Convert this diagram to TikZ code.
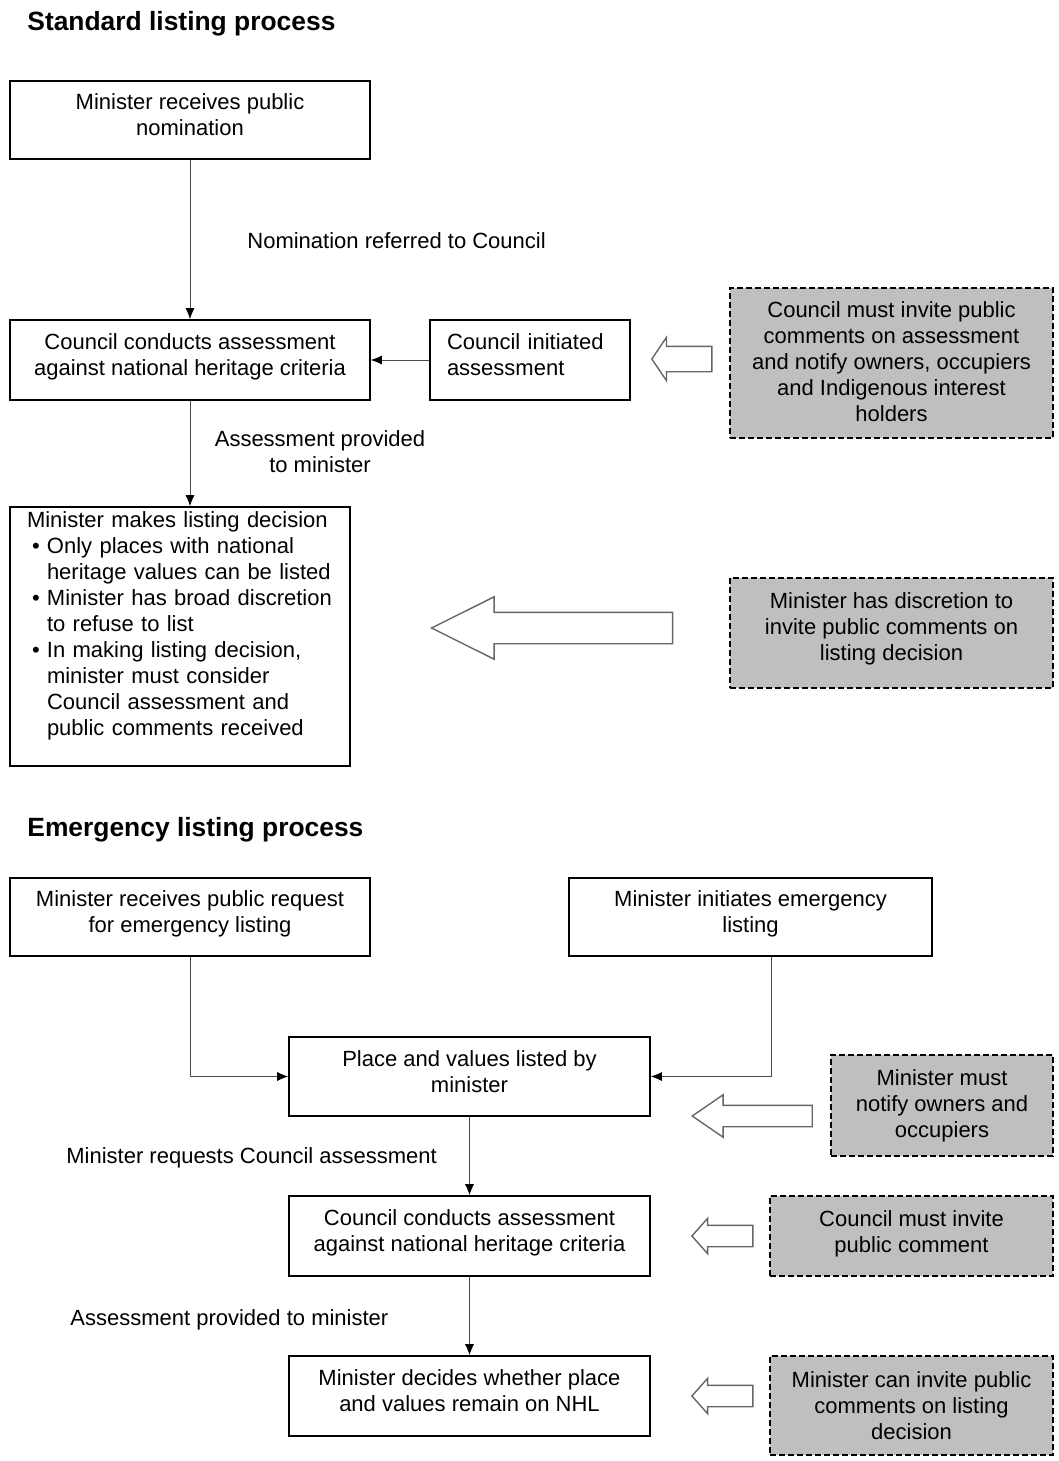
\documentclass[tikz,border=0pt]{standalone}
\usepackage{fontspec}
\setmainfont{Liberation Sans}
\usetikzlibrary{shapes.arrows,arrows.meta}

\newcommand{\bodyfont}{\fontsize{11}{13}\selectfont}
\newcommand{\headfont}{\fontsize{13.2}{15}\selectfont\bfseries}
\newcommand{\bul}{\makebox[10pt][l]{\hspace{2.5pt}\textbullet}}
\newcommand{\bulpad}{\hspace*{10pt}}

\tikzset{
  box/.style={rectangle,draw=black,line width=0.8pt,align=center,font=\bodyfont,inner sep=2pt,text depth=5pt},
  note/.style={box,dash pattern=on 3pt off 1.5pt,fill=gray!50},
  lbl/.style={inner sep=0pt,font=\bodyfont,anchor=west},
  head/.style={inner sep=0pt,font=\headfont,anchor=west},
  fat/.style={single arrow,draw=black!60,fill=white,line width=0.7pt,inner xsep=0pt,rotate=180,anchor=tip},
  >={Latex[length=5.5pt,width=4.5pt,color=black]}
}

\begin{document}
\begin{tikzpicture}[x=0.5pt,y=-0.5pt]
  \useasboundingbox (0,0) rectangle (1059,1461);

  % standard listing
  \node[head] (t1) at (27,24) {Standard listing process};

  \node[box,minimum width=180pt,minimum height=39pt] (nom) at (190,120)
    {Minister receives public\\ nomination};
  \node[box,minimum width=180pt,minimum height=40pt] (assess) at (190,360)
    {Council conducts assessment\\ against national heritage criteria};
  \node[box,minimum width=100pt,minimum height=40pt,text width=83pt,align=left,text depth=18pt] (init) at (530,360)
    {Council initiated\\ assessment};
  \node[note,minimum width=161.5pt,minimum height=75pt,text depth=1pt] (invite) at (891.5,363)
    {Council must invite public\\ comments on assessment\\ and notify owners, occupiers\\ and Indigenous interest\\ holders};
  \node[box,minimum width=170pt,minimum height=129.5pt,text width=153pt,align=left,text depth=117pt] (decide) at (180,636.5)
    {Minister makes listing decision\\
     \bul Only places with national\\ \bulpad heritage values can be listed\\
     \bul Minister has broad discretion\\ \bulpad to refuse to list\\
     \bul In making listing decision,\\ \bulpad minister must consider\\ \bulpad Council assessment and\\ \bulpad public comments received};
  \node[note,minimum width=161.5pt,minimum height=55pt,text depth=6pt] (discr) at (891.5,633)
    {Minister has discretion to\\ invite public comments on\\ listing decision};

  \node[lbl] (l1) at (247,241) {Nomination referred to Council};
  \node[inner sep=0pt,font=\bodyfont,align=center] (l2) at (320,452) {Assessment provided\\ to minister};

  \draw[->,black!70] (nom) -- (assess);
  \draw[->,black!70] (init) -- (assess);
  \draw[->,black!70] (assess.south) -- (assess.south |- decide.north);

  \node[fat,minimum height=30pt,inner ysep=6pt,single arrow head extend=4.5pt,single arrow tip angle=112] (f1) at (651,359) {};
  \node[fat,minimum height=120.5pt,inner ysep=7.5pt,single arrow head extend=7.75pt,single arrow tip angle=53] (f2) at (430,628) {};

  % emergency listing
  \node[head] (t2) at (27,830) {Emergency listing process};

  \node[box,minimum width=180pt,minimum height=39pt] (req) at (190,917)
    {Minister receives public request\\ for emergency listing};
  \node[box,minimum width=181.5pt,minimum height=39pt] (emerg) at (750.5,917)
    {Minister initiates emergency\\ listing};
  \node[box,minimum width=180.5pt,minimum height=39.5pt] (listed) at (469.5,1076.5)
    {Place and values listed by\\ minister};
  \node[note,minimum width=111pt,minimum height=50.5pt,text depth=2.3pt] (notify) at (942,1105.5)
    {Minister must\\ notify owners and\\ occupiers};
  \node[box,minimum width=180.5pt,minimum height=40pt] (assess2) at (469.5,1236)
    {Council conducts assessment\\ against national heritage criteria};
  \node[note,minimum width=141.5pt,minimum height=40pt,text depth=4.3pt] (pubc) at (911.5,1236)
    {Council must invite\\ public comment};
  \node[box,minimum width=180.5pt,minimum height=40pt] (remain) at (469.5,1396)
    {Minister decides whether place\\ and values remain on NHL};
  \node[note,minimum width=141.5pt,minimum height=49.5pt,text depth=0pt] (canc) at (911.5,1405.5)
    {Minister can invite public\\ comments on listing\\ decision};

  \node[lbl] (l3) at (66,1158) {Minister requests Council assessment};
  \node[lbl] (l4) at (70,1320) {Assessment provided to minister};

  \draw[->,black!70] (req.south) |- (listed.west);
  \draw[->,black!70] ([xshift=10.25pt]emerg.south) |- (listed.east);
  \draw[->,black!70] (listed) -- (assess2);
  \draw[->,black!70] (assess2) -- (remain);

  \node[fat,minimum height=60pt,inner ysep=5pt,single arrow head extend=5.25pt,single arrow tip angle=69] (f3) at (691,1116) {};
  \node[fat,minimum height=30.5pt,inner ysep=5pt,single arrow head extend=3.5pt,single arrow tip angle=97] (f4) at (691,1236) {};
  \node[fat,minimum height=30.5pt,inner ysep=5pt,single arrow head extend=3.5pt,single arrow tip angle=97] (f5) at (691,1396) {};

\end{tikzpicture}
\end{document}
